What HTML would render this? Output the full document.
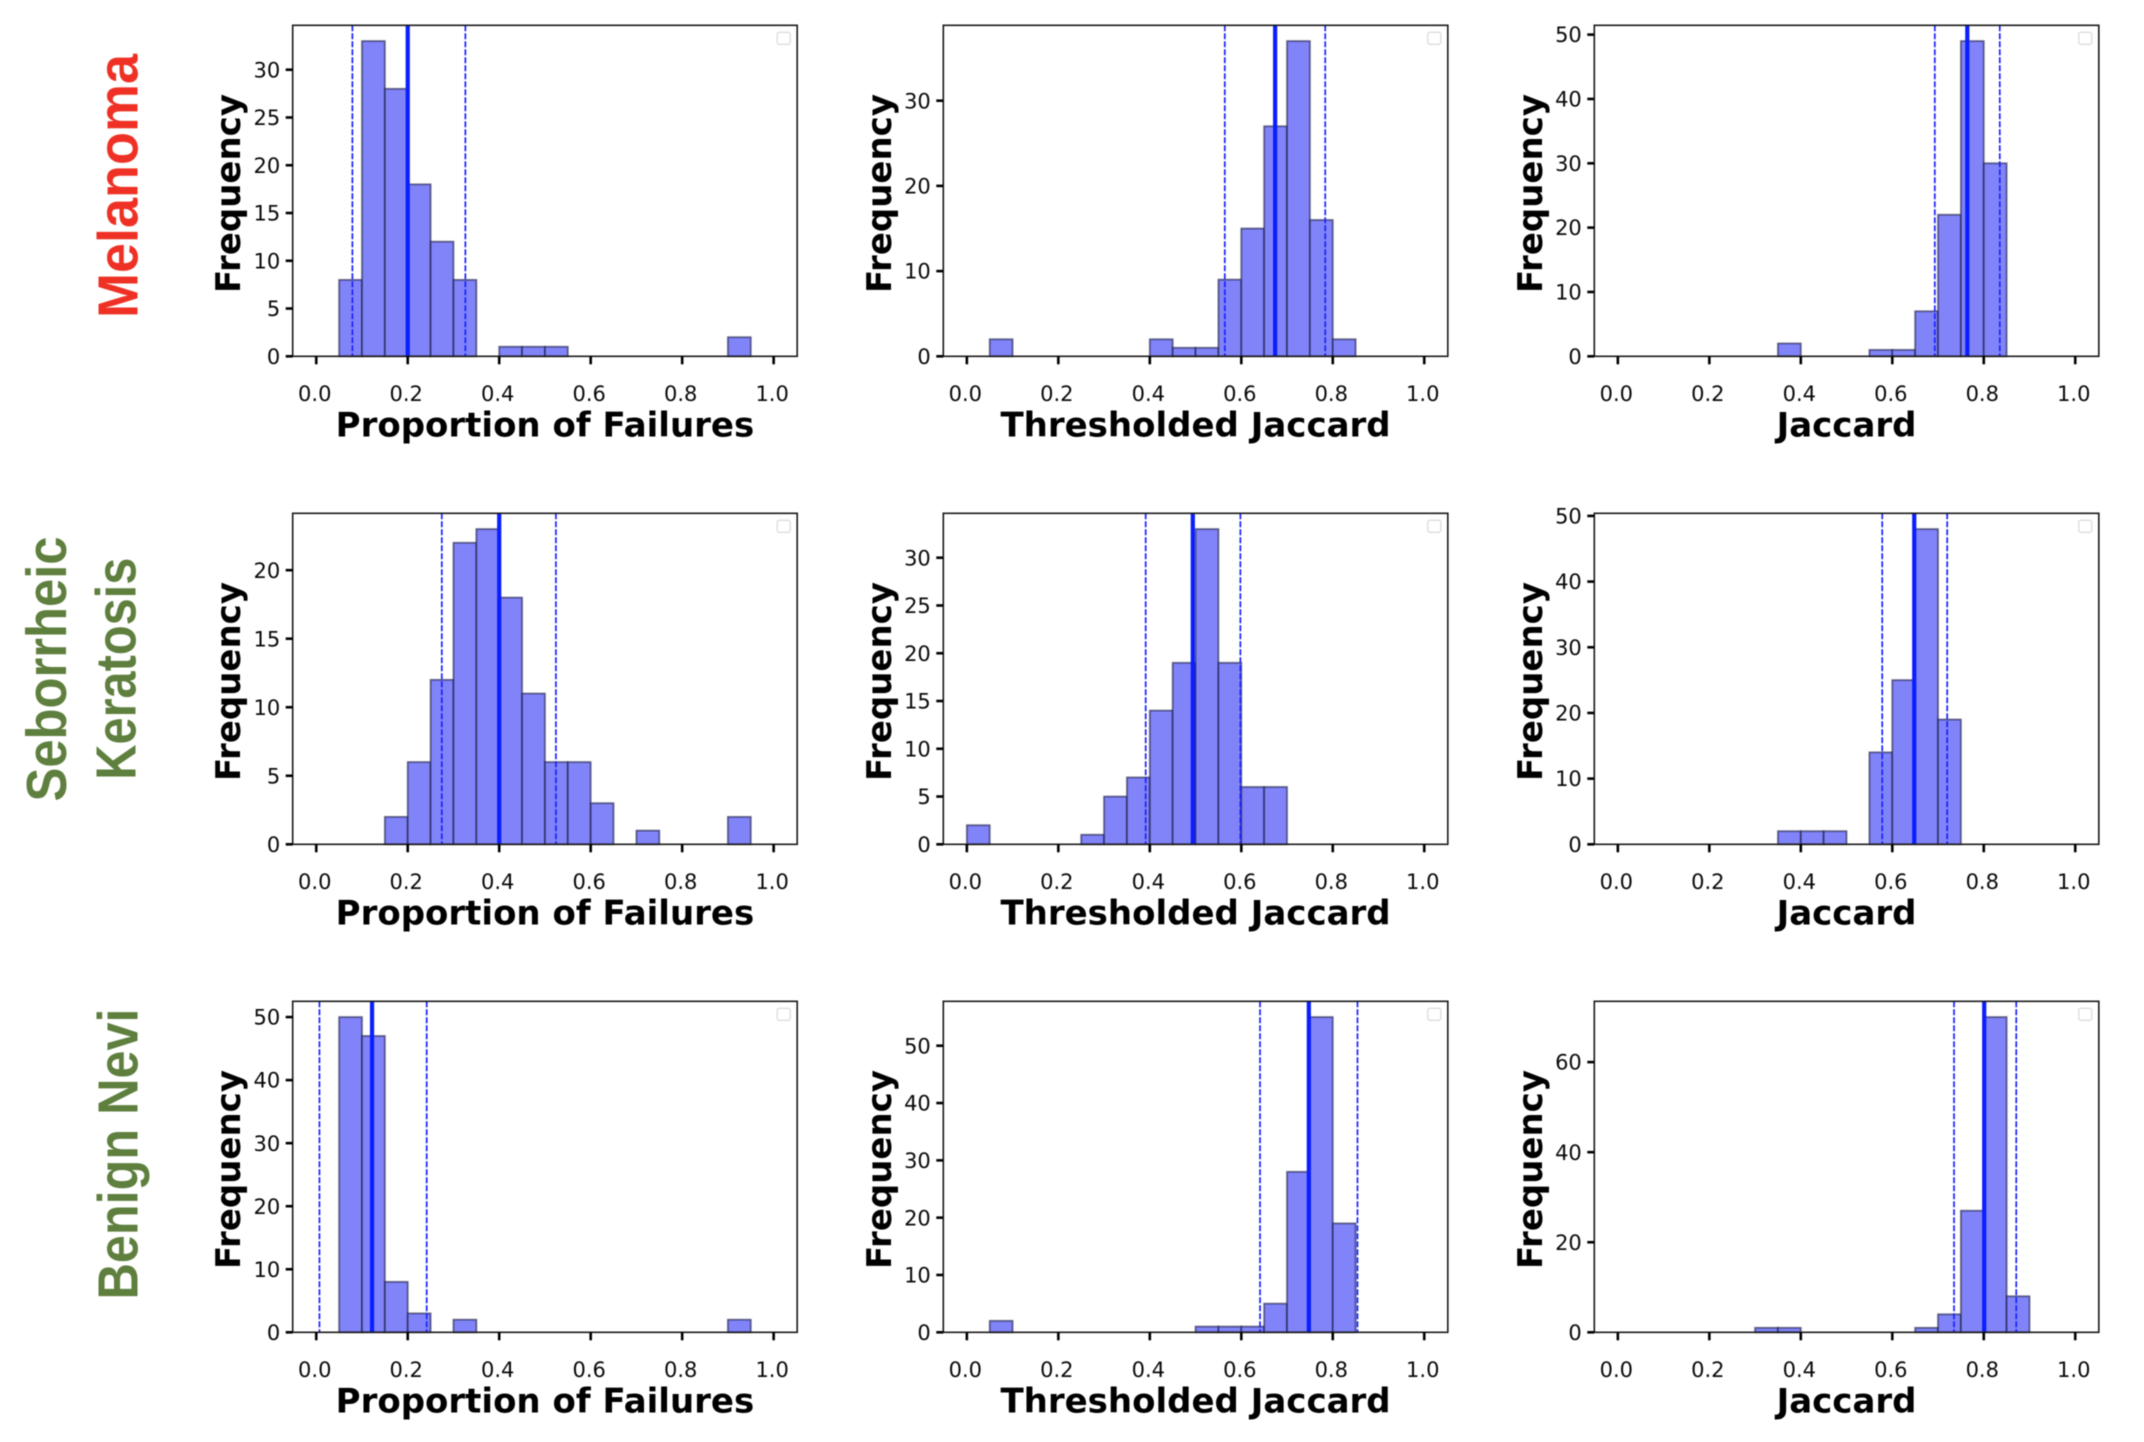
<!DOCTYPE html>
<html lang="en">
<head>
<meta charset="utf-8">
<title>Histogram grid: failures and Jaccard by lesion class</title>
<style>
html,body{margin:0;padding:0;background:#fff;}
svg{display:block;filter:blur(0.55px);}
text{font-family:"DejaVu Sans","Liberation Sans",sans-serif;}
.row-label{font-family:"Liberation Sans",sans-serif;font-weight:700;font-size:57px;}
.tick-label{font-size:21px;fill:#0a0a0a;}
.axis-title{font-size:34px;font-weight:700;fill:#000;}
</style>
</head>
<body>
<svg id="chart" xmlns="http://www.w3.org/2000/svg" width="2144" height="1442" viewBox="0 0 2144 1442">
  <rect x="0" y="0" width="2144" height="1442" fill="#ffffff"/>
  <text class="row-label" transform="translate(137.6 186) rotate(-90)" text-anchor="middle" fill="#EE3124" textLength="264" lengthAdjust="spacingAndGlyphs">Melanoma</text>
  <text class="row-label" transform="translate(66 669) rotate(-90)" text-anchor="middle" fill="#5E7F3E" textLength="265" lengthAdjust="spacingAndGlyphs">Seborrheic</text>
  <text class="row-label" transform="translate(135.7 668.7) rotate(-90)" text-anchor="middle" fill="#5E7F3E" textLength="222" lengthAdjust="spacingAndGlyphs">Keratosis</text>
  <text class="row-label" transform="translate(137.6 1154) rotate(-90)" text-anchor="middle" fill="#5E7F3E" textLength="291" lengthAdjust="spacingAndGlyphs">Benign Nevi</text>
</svg>
<script>
// Shared x axis and histogram bins
const xTickValues = [0, 0.2, 0.4, 0.6, 0.8, 1.0];
const xTickLabels = ['0.0', '0.2', '0.4', '0.6', '0.8', '1.0'];
const binWidth = 0.05;

// Counts per bin (20 bins from 0.00 to 1.00)
const melanomaFailuresCounts = [0, 8, 33, 28, 18, 12, 8, 0, 1, 1, 1, 0, 0, 0, 0, 0, 0, 0, 2, 0];
const melanomaThresholdedCounts = [0, 2, 0, 0, 0, 0, 0, 0, 2, 1, 1, 9, 15, 27, 37, 16, 2, 0, 0, 0];
const melanomaJaccardCounts = [0, 0, 0, 0, 0, 0, 0, 2, 0, 0, 0, 1, 1, 7, 22, 49, 30, 0, 0, 0];
const keratosisFailuresCounts = [0, 0, 0, 2, 6, 12, 22, 23, 18, 11, 6, 6, 3, 0, 1, 0, 0, 0, 2, 0];
const keratosisThresholdedCounts = [2, 0, 0, 0, 0, 1, 5, 7, 14, 19, 33, 19, 6, 6, 0, 0, 0, 0, 0, 0];
const keratosisJaccardCounts = [0, 0, 0, 0, 0, 0, 0, 2, 2, 2, 0, 14, 25, 48, 19, 0, 0, 0, 0, 0];
const neviFailuresCounts = [0, 50, 47, 8, 3, 0, 2, 0, 0, 0, 0, 0, 0, 0, 0, 0, 0, 0, 2, 0];
const neviThresholdedCounts = [0, 2, 0, 0, 0, 0, 0, 0, 0, 0, 1, 1, 1, 5, 28, 55, 19, 0, 0, 0];
const neviJaccardCounts = [0, 0, 0, 0, 0, 0, 1, 1, 0, 0, 0, 0, 0, 1, 4, 27, 70, 8, 0, 0];

// Summary lines per panel: [lower dashed, mean, upper dashed]
const melanomaFailuresStats = [0.079, 0.2, 0.326];
const melanomaThresholdedStats = [0.564, 0.674, 0.7835];
const melanomaJaccardStats = [0.693, 0.764, 0.835];
const keratosisFailuresStats = [0.2745, 0.4, 0.524];
const keratosisThresholdedStats = [0.391, 0.494, 0.598];
const keratosisJaccardStats = [0.578, 0.648, 0.72];
const neviFailuresStats = [0.007, 0.122, 0.2415];
const neviThresholdedStats = [0.641, 0.7477, 0.854];
const neviJaccardStats = [0.735, 0.801, 0.871];

// Frequency tick labels per panel
const melanomaFailuresYTicks = [0, 5, 10, 15, 20, 25, 30];
const melanomaThresholdedYTicks = [0, 10, 20, 30];
const melanomaJaccardYTicks = [0, 10, 20, 30, 40, 50];
const keratosisFailuresYTicks = [0, 5, 10, 15, 20];
const keratosisThresholdedYTicks = [0, 5, 10, 15, 20, 25, 30];
const keratosisJaccardYTicks = [0, 10, 20, 30, 40, 50];
const neviFailuresYTicks = [0, 10, 20, 30, 40, 50];
const neviThresholdedYTicks = [0, 10, 20, 30, 40, 50];
const neviJaccardYTicks = [0, 20, 40, 60];

const panelRows = [
  ['melanoma', [melanomaFailuresCounts, melanomaThresholdedCounts, melanomaJaccardCounts],
    [melanomaFailuresStats, melanomaThresholdedStats, melanomaJaccardStats],
    [melanomaFailuresYTicks, melanomaThresholdedYTicks, melanomaJaccardYTicks]],
  ['keratosis', [keratosisFailuresCounts, keratosisThresholdedCounts, keratosisJaccardCounts],
    [keratosisFailuresStats, keratosisThresholdedStats, keratosisJaccardStats],
    [keratosisFailuresYTicks, keratosisThresholdedYTicks, keratosisJaccardYTicks]],
  ['nevi', [neviFailuresCounts, neviThresholdedCounts, neviJaccardCounts],
    [neviFailuresStats, neviThresholdedStats, neviJaccardStats],
    [neviFailuresYTicks, neviThresholdedYTicks, neviJaccardYTicks]]
];
const metricTitles = ['Proportion of Failures', 'Thresholded Jaccard', 'Jaccard'];
const metricKeys = ['failures', 'thresholded', 'jaccard'];

// Layout
const axesLeft = [292.7, 943.3, 1594.3];
const axesTop = [25.3, 513.3, 1001.3];
const axesWidth = 504.5;
const axesHeight = 331;
const X_MIN = -0.0515, X_MAX = 1.0515;

const NS = 'http://www.w3.org/2000/svg';
const root = document.getElementById('chart');

function add(parent, tag, attrs, text) {
  const el = document.createElementNS(NS, tag);
  for (const k in attrs) el.setAttribute(k, attrs[k]);
  if (text !== undefined) el.textContent = text;
  parent.appendChild(el);
  return el;
}

function drawPanel(rowIdx, colIdx) {
  const rowKey = panelRows[rowIdx][0];
  const counts = panelRows[rowIdx][1][colIdx];
  const stats = panelRows[rowIdx][2][colIdx];
  const yTicks = panelRows[rowIdx][3][colIdx];
  const left = axesLeft[colIdx];
  const top = axesTop[rowIdx];
  const bottom = top + axesHeight;
  const right = left + axesWidth;
  const yMax = Math.max.apply(null, counts) * 1.05;
  const xScale = function (v) { return left + (v - X_MIN) / (X_MAX - X_MIN) * axesWidth; };
  const yScale = function (v) { return bottom - v / yMax * axesHeight; };

  const panel = add(root, 'g', {});
  
  

  const plotBg = add(panel, 'rect', { x: left, y: top, width: axesWidth, height: axesHeight, fill: '#ffffff' });
  
  

  counts.forEach(function (count, i) {
    const x0 = xScale(i * binWidth);
    const x1 = xScale((i + 1) * binWidth);
    const bar = add(panel, 'rect', {
      x: x0, y: yScale(count), width: x1 - x0, height: Math.max(0, bottom - yScale(count)),
      fill: '#8084f8', stroke: 'rgba(20,20,60,0.58)', 'stroke-width': 1.8
    });
    
    
  });

  const lower = add(panel, 'line', { x1: xScale(stats[0]), x2: xScale(stats[0]), y1: top, y2: bottom, stroke: '#1a22ff', 'stroke-width': 1.7, 'stroke-dasharray': '6 2' });
  
  

  const upper = add(panel, 'line', { x1: xScale(stats[2]), x2: xScale(stats[2]), y1: top, y2: bottom, stroke: '#1a22ff', 'stroke-width': 1.7, 'stroke-dasharray': '6 2' });
  
  

  const mean = add(panel, 'line', { x1: xScale(stats[1]), x2: xScale(stats[1]), y1: top, y2: bottom, stroke: '#0a1eff', 'stroke-width': 4.2 });
  
  

  const frame = add(panel, 'rect', { x: left, y: top, width: axesWidth, height: axesHeight, fill: 'none', stroke: '#1a1a1a', 'stroke-width': 1.6 });
  
  

  const legend = add(panel, 'rect', { x: right - 20, y: top + 7, width: 13, height: 12, rx: 2, fill: '#ffffff', stroke: '#dcdcdc', 'stroke-width': 1.3 });
  
  

  xTickValues.forEach(function (v, i) {
    const tick = add(panel, 'line', { x1: xScale(v), x2: xScale(v), y1: bottom, y2: bottom + 8, stroke: '#000', 'stroke-width': 2.6 });
    
    
    const label = add(panel, 'text', { class: 'tick-label', x: xScale(v) - 1.5, y: bottom + 44.8, 'text-anchor': 'middle' }, xTickLabels[i]);
    
    
  });

  yTicks.forEach(function (v) {
    const tick = add(panel, 'line', { x1: left - 7, x2: left, y1: yScale(v), y2: yScale(v), stroke: '#000', 'stroke-width': 2.6 });
    
    
    const label = add(panel, 'text', { class: 'tick-label', x: left - 12.5, y: yScale(v) + 7.6, 'text-anchor': 'end' }, String(v));
    
    
  });

  const xTitle = add(panel, 'text', { class: 'axis-title', x: left + axesWidth / 2, y: bottom + 80, 'text-anchor': 'middle' }, metricTitles[colIdx]);
  
  

  const yTitle = add(panel, 'text', { class: 'axis-title', transform: 'translate(' + (left - 52.5) + ' ' + (top + axesHeight / 2 + 2.7) + ') rotate(-90)', 'text-anchor': 'middle' }, 'Frequency');
  
  
}

for (let r = 0; r < panelRows.length; r++) {
  for (let c = 0; c < metricTitles.length; c++) {
    drawPanel(r, c);
  }
}
</script>
</body>
</html>
